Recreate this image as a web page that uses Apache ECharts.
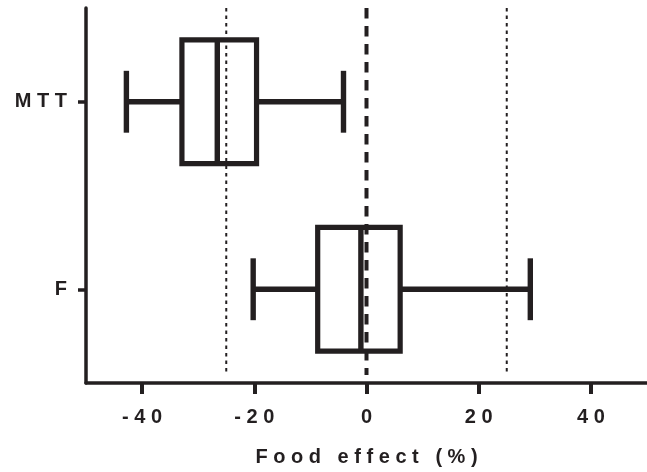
<!DOCTYPE html>
<html>
<head>
<meta charset="utf-8">
<script src="https://cdn.jsdelivr.net/npm/echarts@6/dist/echarts.min.js"></script>
<style>
html,body{margin:0;padding:0;background:#fff;}
#chart{width:647px;height:472px;}
</style>
</head>
<body>
<div id="chart"></div>
<script>
// Categories bottom-to-top on the y axis
const categories = ['F', 'MTT'];
const whiskerLow  = [-20.2, -42.8];
const q1          = [-8.7, -32.9];
const median      = [-1.0, -26.6];
const q3          = [6.0, -19.6];
const whiskerHigh = [29.2, -4.1];
const xTickValues = [-40, -20, 0, 20, 40];
const dottedLines = [-25, 25];
const dashedLines = [0];
const axisTitle = 'Food effect (%)';

const INK = '#231f20';
const FONT = '"Liberation Sans", Arial, sans-serif';
const spaced = s => s.split('').join(' ');

const boxData = categories.map((c, i) => [whiskerLow[i], q1[i], median[i], q3[i], whiskerHigh[i], i]);

function renderBox(params, api) {
  const ci = api.value(5);
  const xs = [0,1,2,3,4].map(k => api.coord([api.value(k), ci])[0]);
  const y = api.coord([0, ci])[1];
  const band = api.size([0, 1])[1];
  const boxH = band * 0.66;
  const capH = band * 0.33;
  const st = { stroke: INK, lineWidth: 5.4, fill: null, lineCap: 'butt' };
  return {
    type: 'group',
    children: [
      { type: 'line', shape: { x1: xs[0], y1: y, x2: xs[1], y2: y }, style: st },
      { type: 'line', shape: { x1: xs[3], y1: y, x2: xs[4], y2: y }, style: st },
      { type: 'line', shape: { x1: xs[0], y1: y - capH/2, x2: xs[0], y2: y + capH/2 }, style: st },
      { type: 'line', shape: { x1: xs[4], y1: y - capH/2, x2: xs[4], y2: y + capH/2 }, style: st },
      { type: 'rect', shape: { x: xs[1], y: y - boxH/2, width: xs[3] - xs[1], height: boxH }, style: { stroke: INK, lineWidth: 5.2, fill: null, lineJoin: 'miter' } },
      { type: 'line', shape: { x1: xs[2], y1: y - boxH/2, x2: xs[2], y2: y + boxH/2 }, style: st }
    ]
  };
}

function makeRefRenderer(width, dash) {
  return function (params, api) {
    const x = api.coord([api.value(0), 0])[0];
    const cs = params.coordSys;
    return {
      type: 'line',
      shape: { x1: x, y1: cs.y, x2: x, y2: cs.y + cs.height - 8 },
      style: { stroke: INK, lineWidth: width, lineDash: dash, lineCap: 'butt' }
    };
  };
}

const chart = echarts.init(document.getElementById('chart'));
chart.setOption({
  animation: false,
  backgroundColor: '#fff',
  grid: { left: 86, right: 0, top: 8, bottom: 88, containLabel: false },
  xAxis: {
    type: 'value',
    min: -50, max: 50,
    name: spaced(axisTitle),
    nameLocation: 'middle',
    nameGap: 64,
    nameTextStyle: { fontFamily: FONT, fontWeight: 'bold', fontSize: 20, color: INK },
    axisLine: { show: true, onZero: false, lineStyle: { color: INK, width: 3.5 } },
    axisTick: { show: true, length: 11, customValues: xTickValues, lineStyle: { color: INK, width: 4 } },
    axisLabel: { customValues: xTickValues, margin: 24, fontFamily: FONT, fontWeight: 'bold', fontSize: 20, color: INK,
      formatter: v => spaced(String(v)) },
    splitLine: { show: false }
  },
  yAxis: {
    type: 'category',
    data: categories,
    axisLine: { show: true, onZero: false, lineStyle: { color: INK, width: 3.5 } },
    axisTick: { show: true, alignWithLabel: true, length: 8, lineStyle: { color: INK, width: 3.5 } },
    axisLabel: { margin: 19, fontFamily: FONT, fontWeight: 'bold', fontSize: 20, color: INK,
      formatter: v => spaced(v) },
    splitLine: { show: false }
  },
  series: [
    { type: 'custom', name: 'dotted', renderItem: makeRefRenderer(2, [3.5, 4]), data: dottedLines.map(v => [v]), encode: { x: 0 }, z: 1, silent: true },
    { type: 'custom', name: 'dashed', renderItem: makeRefRenderer(4, [10.5, 7.5]), data: dashedLines.map(v => [v]), encode: { x: 0 }, z: 1, silent: true },
    { type: 'custom', name: 'box', renderItem: renderBox, data: boxData, encode: { x: [0,1,2,3,4], y: 5 }, z: 2, silent: true }
  ]
});
</script>
</body>
</html>
